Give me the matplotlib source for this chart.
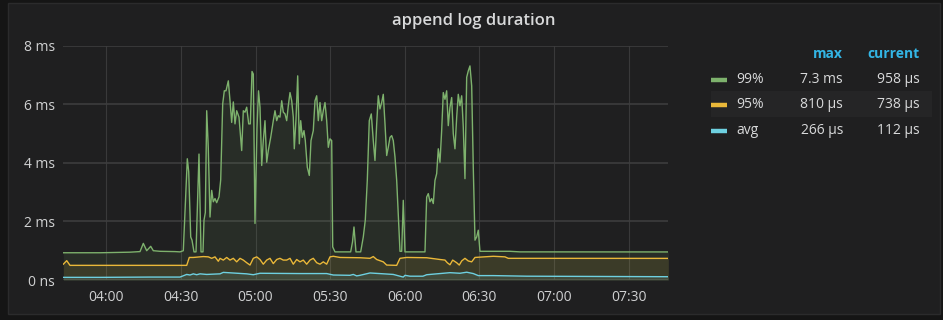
import matplotlib
matplotlib.use("Agg")
import matplotlib.pyplot as plt
import matplotlib.dates as mdates
from matplotlib.patches import Rectangle
from matplotlib.lines import Line2D
import pandas as pd

plt.rcParams['font.family'] = ['Open Sans', 'DejaVu Sans']

# time axis: minutes after 04:00
BASE = pd.Timestamp("2018-03-01 04:00")
x_start, x_end = -17.3, 226.0

# 99th percentile (ms)
p99_t = [-17.29, -2.53, 9.53, 13.55, 14.88, 16.24, 17.85, 18.90, 21.59, 27.62, 29.63,
         30.96, 32.57, 33.13, 33.94, 34.46, 35.26, 36.07, 37.27, 38.08, 38.88, 39.28,
         39.81, 40.37, 41.01, 41.70, 42.38, 43.02, 43.71, 44.39, 45.32, 46.00, 46.80,
         47.45, 48.13, 49.06, 49.74, 50.42, 51.07, 51.75, 52.43, 53.36, 54.44, 55.09,
         55.77, 56.45, 57.26, 57.90, 58.59, 59.11, 59.79, 60.60, 61.20, 61.80, 62.49,
         63.13, 63.81, 64.50, 65.14, 66.11, 67.15, 67.83, 68.52, 69.16, 69.84, 70.53,
         71.17, 71.86, 72.54, 73.18, 73.87, 74.55, 75.19, 75.59, 76.28, 76.96, 77.61,
         78.17, 78.81, 79.49, 80.02, 80.82, 81.63, 82.31, 83.23, 83.92, 84.60, 85.25,
         85.93, 86.61, 87.26, 87.94, 88.62, 89.27, 89.95, 90.63, 91.04, 91.96, 98.27,
         99.00, 99.60, 100.40, 102.29, 103.34, 104.14, 104.95, 105.75, 106.56, 107.36,
         108.04, 108.73, 109.37, 110.05, 110.74, 111.38, 112.07, 112.75, 113.39, 114.08,
         114.76, 115.40, 116.09, 116.77, 117.41, 118.10, 118.78, 119.42, 120.11, 128.15,
         128.83, 129.48, 130.16, 130.84, 131.49, 132.17, 132.85, 133.50, 134.18, 134.86,
         135.51, 136.19, 136.87, 137.52, 138.20, 138.89, 139.53, 140.21, 140.90, 141.54,
         142.22, 142.91, 143.55, 144.23, 144.92, 145.56, 146.24, 146.93, 147.57, 148.26,
         148.94, 149.58, 150.26, 162.33, 166.35, 226.0]
p99_v = [0.93, 0.93, 0.95, 0.97, 1.25, 1.00, 1.15, 1.00, 0.98, 0.97, 0.96,
         1.00, 4.14, 3.70, 1.47, 1.36, 0.96, 0.96, 4.30, 0.96, 0.96, 2.04,
         2.30, 5.78, 4.50, 2.15, 3.06, 2.67, 2.78, 2.64, 2.84, 3.42, 6.01,
         6.46, 6.46, 6.80, 6.12, 5.38, 6.08, 5.33, 5.78, 5.56, 4.42, 5.78,
         5.73, 5.90, 5.33, 5.33, 7.12, 7.03, 1.93, 5.20, 6.46, 5.90, 3.91,
         4.76, 5.44, 4.02, 4.42, 4.87, 5.44, 5.78, 5.44, 5.61, 5.56, 6.12,
         5.73, 5.67, 5.44, 5.95, 6.40, 6.12, 5.56, 4.48, 5.50, 6.97, 4.65,
         5.44, 4.87, 5.10, 4.76, 3.85, 3.57, 4.76, 5.10, 6.12, 6.29, 5.44,
         6.06, 5.44, 5.78, 6.06, 5.44, 4.53, 4.82, 4.76, 1.13, 0.96, 0.96,
         1.30, 1.81, 0.96, 0.96, 1.47, 2.04, 3.40, 5.44, 5.67, 4.76,
         4.08, 5.33, 6.29, 5.84, 6.06, 6.34, 5.33, 4.25, 4.53, 4.87,
         4.93, 4.76, 4.20, 3.40, 2.27, 0.98, 0.98, 2.72, 0.96, 0.96,
         2.83, 2.95, 2.67, 2.78, 2.61, 3.40, 3.63, 4.48, 4.02, 5.10,
         6.40, 6.17, 6.46, 5.27, 5.90, 6.23, 5.00, 4.48, 5.56, 6.34,
         5.95, 6.29, 5.22, 3.46, 6.92, 7.14, 7.31, 6.63, 3.85, 1.36,
         1.47, 1.70, 0.98, 0.98, 0.96, 0.958]

# 95th percentile (ms)
p95_t = [-17.29, -15.92, -14.60, 8.20, 29.63, 32.33, 33.37, 34.98, 39.00, 41.01,
         42.38, 43.71, 45.04, 45.72, 47.05, 48.41, 49.74, 51.07, 52.43, 53.76,
         55.09, 56.45, 57.78, 59.11, 60.48, 61.80, 63.13, 64.50, 65.82, 67.15,
         68.52, 69.84, 71.17, 72.54, 73.87, 75.19, 76.56, 77.89, 79.21, 80.58,
         81.91, 83.23, 84.60, 85.93, 87.26, 88.62, 89.95, 91.28, 93.97, 102.01,
         106.03, 107.36, 108.73, 109.37, 111.38, 112.75, 116.77, 118.10, 120.79,
         128.83, 134.18, 136.19, 137.12, 138.20, 139.29, 140.90, 141.94, 142.91,
         144.23, 145.56, 146.93, 148.26, 155.62, 160.32, 161.64, 226.0]
p95_v = [0.54, 0.66, 0.50, 0.50, 0.50, 0.50, 0.77, 0.77, 0.80, 0.79,
         0.74, 0.79, 0.64, 0.74, 0.68, 0.77, 0.68, 0.74, 0.62, 0.74,
         0.68, 0.59, 0.51, 0.74, 0.79, 0.70, 0.54, 0.68, 0.74, 0.56,
         0.70, 0.74, 0.68, 0.68, 0.74, 0.54, 0.70, 0.62, 0.68, 0.54,
         0.68, 0.74, 0.59, 0.54, 0.62, 0.54, 0.79, 0.81, 0.77, 0.76,
         0.74, 0.80, 0.70, 0.68, 0.62, 0.51, 0.50, 0.74, 0.77,
         0.76, 0.70, 0.68, 0.59, 0.52, 0.68, 0.59, 0.51, 0.65,
         0.74, 0.65, 0.62, 0.77, 0.81, 0.79, 0.74, 0.738]

# average (ms)
avg_t = [-17.29, -2.53, 17.57, 29.63, 32.33, 33.66, 34.98, 36.35, 37.68, 40.37,
         45.72, 47.05, 56.45, 59.11, 61.80, 77.89, 88.62, 91.28, 97.99, 99.32,
         100.69, 102.01, 106.03, 115.40, 119.42, 120.11, 122.12, 127.34, 128.83,
         134.18, 138.20, 142.22, 144.92, 147.57, 149.58, 155.62, 169.04, 226.0]
avg_v = [0.09, 0.09, 0.10, 0.10, 0.19, 0.17, 0.21, 0.18, 0.21, 0.19,
         0.21, 0.26, 0.21, 0.18, 0.23, 0.22, 0.22, 0.17, 0.16, 0.19,
         0.14, 0.16, 0.24, 0.19, 0.10, 0.16, 0.13, 0.13, 0.18,
         0.22, 0.25, 0.23, 0.266, 0.22, 0.15, 0.15, 0.13, 0.112]

series_names = ["99%", "95%", "avg"]
series_colors = ["#7eb26d", "#eab839", "#6ed0e0"]
legend_max = ["7.3 ms", "810 µs", "266 µs"]
legend_current = ["958 µs", "738 µs", "112 µs"]

y_ticks = [0, 2, 4, 6, 8]
y_labels = ["0 ns", "2 ms", "4 ms", "6 ms", "8 ms"]

W, H = 943, 320
fig = plt.figure(figsize=(W / 100, H / 100), dpi=100)
fig.patch.set_facecolor("#151515")

# panel box
fig.add_artist(Rectangle((8 / W, 1 - 314 / H), 932 / W, 311 / H, transform=fig.transFigure,
                         facecolor="#1f1f20", edgecolor="#2b2b2c", lw=1, zorder=0))

ax = fig.add_axes([63.3 / W, 40 / H, 605 / W, 234.3 / H])
ax.set_facecolor("none")


def to_time(mins):
    return BASE + pd.to_timedelta(mins, unit="m")


data = [(p99_t, p99_v), (p95_t, p95_v), (avg_t, avg_v)]
for (t, v), col in zip(data, series_colors):
    tt = to_time(t)
    ax.fill_between(tt, 0, v, color=col, alpha=0.1, lw=0, zorder=2)
    ax.plot(tt, v, color=col, lw=1.0, zorder=3)

ax.set_xlim(to_time(x_start), to_time(x_end))
ax.set_ylim(0, 8)
ax.set_yticks(y_ticks)
ax.set_yticklabels(y_labels)
ax.xaxis.set_major_locator(mdates.MinuteLocator(byminute=[0, 30]))
ax.xaxis.set_major_formatter(mdates.DateFormatter("%H:%M"))

ax.grid(axis="y", color="#3d3d3e", lw=1.2, zorder=1)
ax.grid(axis="x", color="#39393a", lw=0.8, zorder=1)
for s in ax.spines.values():
    s.set_visible(False)
ax.tick_params(axis="both", length=0, labelsize=10, colors="#d0d1d2")
ax.tick_params(axis="y", pad=6)
ax.tick_params(axis="x", pad=7)

fig.text(474 / W, 1 - 21 / H, "append log duration", ha="center", va="center",
         color="#d8d9da", fontsize=12, fontweight="semibold")

# legend table
fig.add_artist(Rectangle((710.5 / W, 1 - 117 / H), 221 / W, 26 / H, transform=fig.transFigure,
                         facecolor="#252526", edgecolor="none", zorder=1))
hdr_y = 1 - 54 / H
fig.text(843 / W, hdr_y, "max", ha="right", va="center", color="#33b5e5",
         fontsize=10, fontweight="bold")
fig.text(920 / W, hdr_y, "current", ha="right", va="center", color="#33b5e5",
         fontsize=10, fontweight="bold")
row_y = [79.5, 105, 130.5]
for i, name in enumerate(series_names):
    yy = 1 - row_y[i] / H
    fig.add_artist(Line2D([711 / W, 727 / W], [yy, yy], transform=fig.transFigure,
                          color=series_colors[i], lw=3.2, solid_capstyle="butt"))
    fig.text(736 / W, yy, name, ha="left", va="center", color="#d8d9da", fontsize=10)
    fig.text(843 / W, yy, legend_max[i], ha="right", va="center", color="#d8d9da", fontsize=10)
    fig.text(920 / W, yy, legend_current[i], ha="right", va="center", color="#d8d9da", fontsize=10)

fig.savefig("out.png", dpi=100, facecolor=fig.get_facecolor())
